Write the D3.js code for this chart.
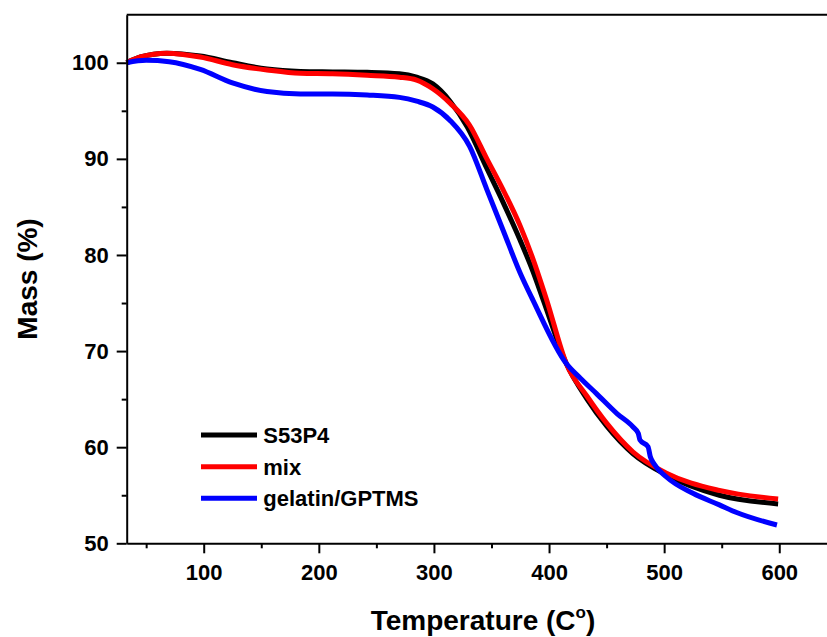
<!DOCTYPE html>
<html>
<head>
<meta charset="utf-8">
<script src="https://cdn.jsdelivr.net/npm/d3@7"></script>
<style>
  body { margin: 0; background: #fff; }
  svg { font-family: "Liberation Sans", Arial, sans-serif; font-weight: bold; }
</style>
</head>
<body>
<svg id="chart" width="827" height="637"></svg>
<script>
// series names and colours
let seriesNames = ["S53P4", "mix", "gelatin/GPTMS"];
let seriesColors = ["#000000", "#ff0000", "#0000ff"];

// S53P4 (temperature, mass)
let s53p4T = [33, 45, 68, 97, 125, 155, 184, 212, 242, 270, 285, 299, 314, 329, 346, 360, 375, 386, 395, 415, 433, 450, 473, 502, 548, 599];
let s53p4M = [100.0, 100.6, 101.0, 100.7, 100.0, 99.35, 99.1, 99.05, 99.0, 98.85, 98.5, 97.8, 96.0, 93.3, 89.0, 85.5, 81.5, 78.3, 75.3, 68.7, 65.0, 62.2, 59.3, 57.1, 55.0, 54.1];

// mix
let mixT = [33, 45, 68, 97, 125, 155, 184, 212, 242, 270, 285, 299, 314, 331, 346, 360, 375, 386, 398, 415, 433, 450, 473, 502, 548, 599];
let mixM = [100.0, 100.6, 101.0, 100.6, 99.8, 99.25, 98.9, 98.85, 98.7, 98.5, 98.2, 97.3, 95.8, 93.5, 90.0, 86.8, 83.0, 79.6, 75.3, 68.7, 65.3, 62.5, 59.5, 57.3, 55.5, 54.6];

// gelatin/GPTMS
let gelT = [33, 50, 70, 97, 125, 155, 184, 212, 242, 270, 285, 299, 314, 331, 346, 360, 375, 386, 415, 427, 441, 459, 473, 477.5, 479, 486, 488, 491, 502, 525, 548, 563, 598];
let gelM = [100.0, 100.25, 100.1, 99.3, 97.9, 97.0, 96.75, 96.75, 96.65, 96.4, 96.0, 95.4, 94.0, 91.3, 86.8, 82.6, 78.1, 75.3, 68.7, 67.2, 65.6, 63.5, 62.1, 61.45, 60.75, 60.05, 59.0, 58.3, 56.9, 55.2, 54.0, 53.2, 51.9];

let xTicks = [100, 200, 300, 400, 500, 600];
let xMinor = [50, 150, 250, 350, 450, 550, 650];
let yTicks = [50, 60, 70, 80, 90, 100];
let yMinor = [55, 65, 75, 85, 95];

let svg = d3.select("#chart");
let plot = { left: 126.7, right: 839, top: 14.7, bottom: 543.3 };

let x = d3.scaleLinear().domain([33.1, 651.9]).range([plot.left, plot.right]);
let y = d3.scaleLinear().domain([50, 105]).range([plot.bottom, plot.top]);

let series = [
    { name: seriesNames[0], color: seriesColors[0], data: s53p4T.map((t, i) => ({ t: t, m: s53p4M[i] })) },
    { name: seriesNames[1], color: seriesColors[1], data: mixT.map((t, i) => ({ t: t, m: mixM[i] })) },
    { name: seriesNames[2], color: seriesColors[2], data: gelT.map((t, i) => ({ t: t, m: gelM[i] })) }
];

let line = d3.line()
    .x(d => x(d.t))
    .y(d => y(d.m))
    .curve(d3.curveMonotoneX);

svg.append("g").selectAll("path")
    .data(series)
    .enter().append("path")
    .attr("d", d => line(d.data))
    .attr("fill", "none")
    .attr("stroke", d => d.color)
    .attr("stroke-width", 5)
    .attr("stroke-linejoin", "round");

// frame top line
svg.append("line")
    .attr("x1", plot.left).attr("x2", plot.right)
    .attr("y1", plot.top).attr("y2", plot.top)
    .attr("stroke", "#000").attr("stroke-width", 2);

// minor ticks
svg.append("g")
    .attr("transform", `translate(0,${plot.bottom})`)
    .call(d3.axisBottom(x).tickValues(xMinor).tickSize(5).tickFormat(""))
    .call(g => g.select(".domain").remove())
    .selectAll("line").attr("stroke-width", 2);

svg.append("g")
    .attr("transform", `translate(${plot.left},0)`)
    .call(d3.axisLeft(y).tickValues(yMinor).tickSize(5).tickFormat(""))
    .call(g => g.select(".domain").remove())
    .selectAll("line").attr("stroke-width", 2);

// major axes
let xAxis = svg.append("g")
    .attr("transform", `translate(0,${plot.bottom})`)
    .call(d3.axisBottom(x).tickValues(xTicks).tickSize(10).tickSizeOuter(0).tickPadding(11));
xAxis.select(".domain").attr("stroke-width", 2);
xAxis.selectAll("line").attr("stroke-width", 2);
xAxis.selectAll("text").attr("font-size", 22).attr("font-family", null).attr("fill", "#000");

let yAxis = svg.append("g")
    .attr("transform", `translate(${plot.left},0)`)
    .call(d3.axisLeft(y).tickValues(yTicks).tickSize(10).tickSizeOuter(0).tickPadding(8));
yAxis.select(".domain").attr("stroke-width", 2);
yAxis.selectAll("line").attr("stroke-width", 2);
yAxis.selectAll("text").attr("font-size", 22).attr("font-family", null).attr("fill", "#000");

// axis titles
let xTitle = svg.append("text")
    .attr("x", 483).attr("y", 630)
    .attr("text-anchor", "middle")
    .attr("font-size", 28);
xTitle.append("tspan").text("Temperature (C");
xTitle.append("tspan").attr("font-size", 17).attr("dy", -12).text("o");
xTitle.append("tspan").attr("dy", 12).text(")");

svg.append("text")
    .attr("transform", "translate(36.7,279) rotate(-90)")
    .attr("text-anchor", "middle")
    .attr("font-size", 28)
    .text("Mass (%)");

// legend
let legendY = [435, 466.7, 498.3];
let legend = svg.append("g").selectAll("g")
    .data(series)
    .enter().append("g")
    .attr("transform", (d, i) => `translate(0,${legendY[i]})`);
legend.append("line")
    .attr("x1", 201).attr("x2", 257)
    .attr("stroke", d => d.color).attr("stroke-width", 5);
legend.append("text")
    .attr("x", 263.3).attr("dy", "0.36em")
    .attr("font-size", 22)
    .text(d => d.name);
</script>
</body>
</html>
